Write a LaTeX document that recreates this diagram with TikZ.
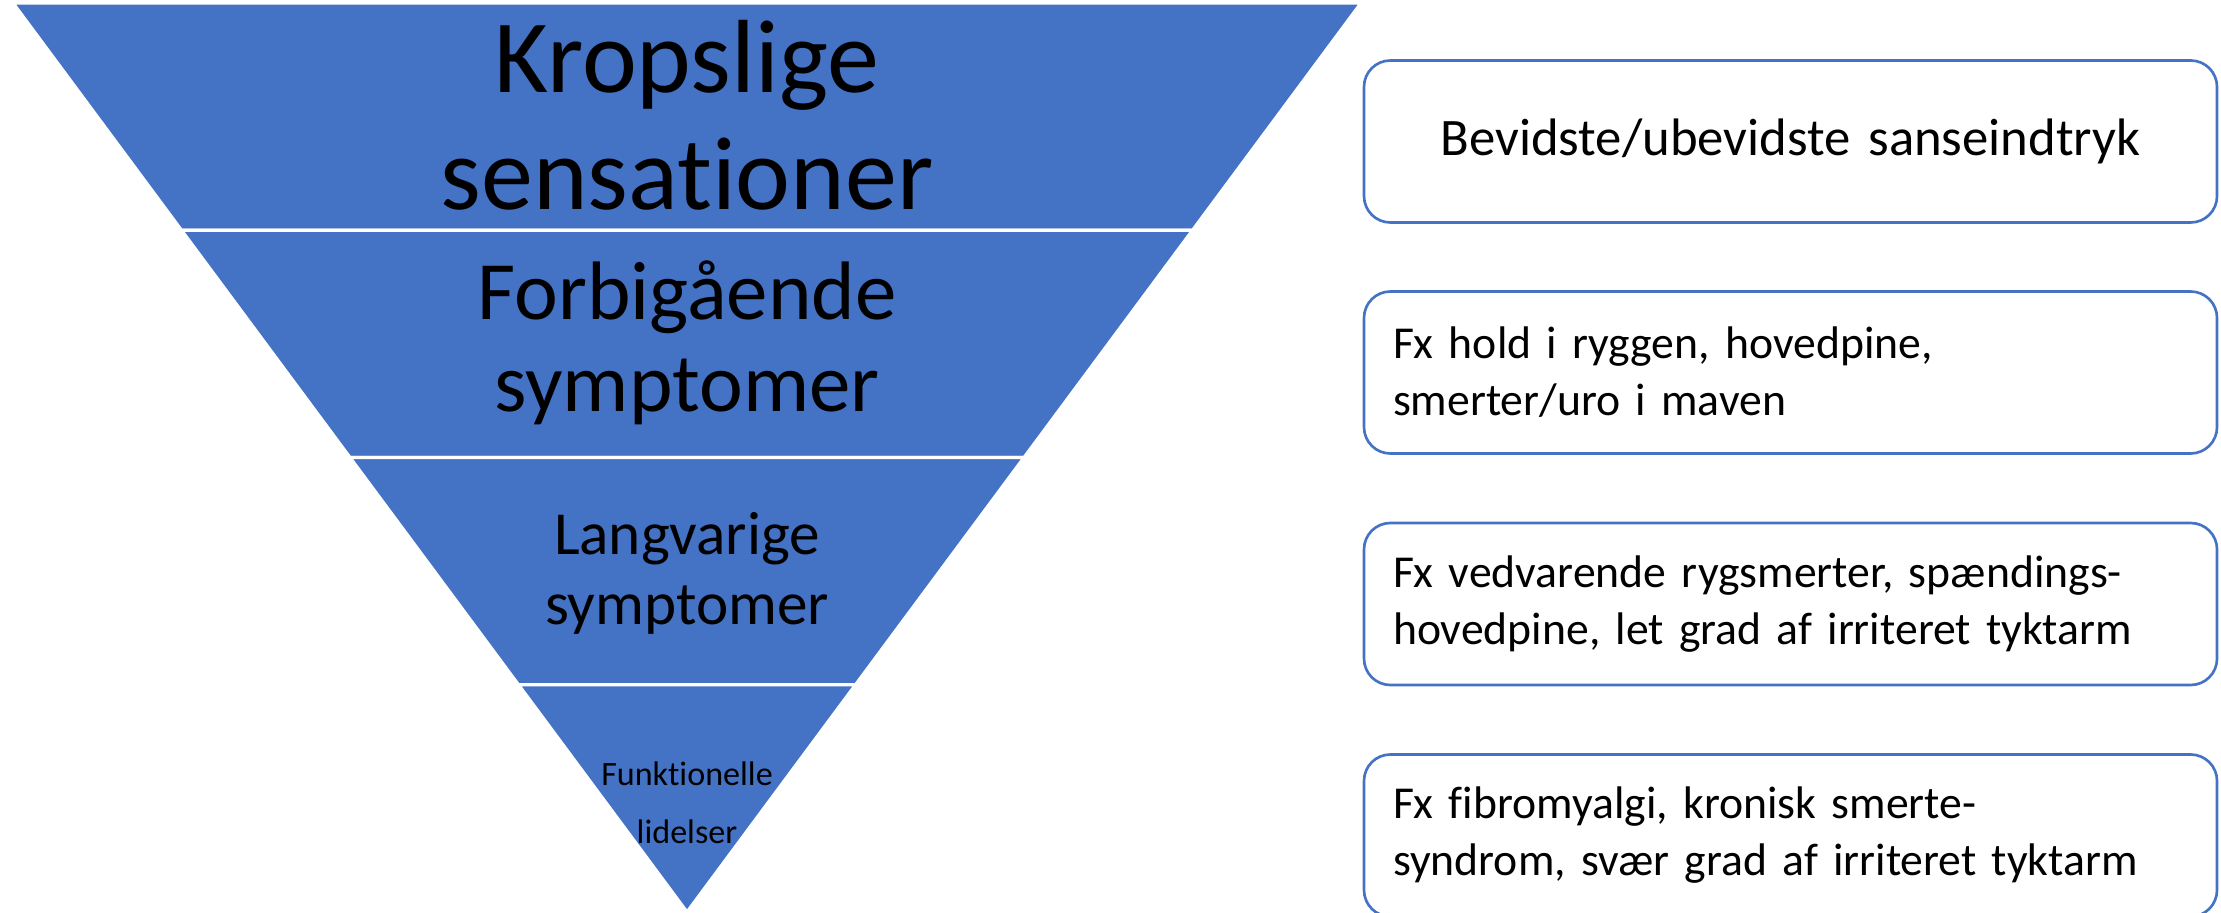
\documentclass[tikz,border=0pt]{standalone}
\usepackage{fontspec}
\setmainfont{Carlito}[Ligatures={NoCommon}]
\usepackage{xcolor}
\definecolor{pyramidblue}{RGB}{68, 114, 196}
\usetikzlibrary{calc, positioning}

\begin{document}
\begin{tikzpicture}[
    band/.style={fill=pyramidblue, draw=white, line width=0.9pt},
    lvl/.style={align=center, inner sep=0pt, text=black},
    ibox/.style={rectangle, rounded corners=7.5pt, draw=pyramidblue, line width=0.75pt, fill=white, minimum width=8.53cm, minimum height=1.62cm, text width=7.95cm, inner xsep=0.29cm, align=left, font=\fontsize{13}{16.2}\selectfont}
  ]
    \useasboundingbox (0, 0) rectangle (22.21, 9.12);
    \clip (0, 0) rectangle (22.21, 9.12);

    % inverted pyramid in four bands
    \coordinate (tl) at (0.13, 9.09);
    \coordinate (tr) at (13.61, 9.09);
    \coordinate (apex) at (6.87, 0);
    \foreach \i in {0,...,3} {
      \pgfmathsetmacro\fa{\i/4}
      \pgfmathsetmacro\fb{(\i+1)/4}
      \filldraw[band] ($(tl)!\fa!(apex)$) -- ($(tr)!\fa!(apex)$) -- ($(tr)!\fb!(apex)$) -- ($(tl)!\fb!(apex)$) -- cycle;
    }

    \node[lvl, font=\fontsize{29.6}{33.3}\selectfont] (lvl1) at (6.87, 7.97) {Kropslige\\sensationer};
    \node[lvl, font=\fontsize{23.6}{26.2}\selectfont] (lvl2) at (6.87, 5.69) {Forbigående\\symptomer};
    \node[lvl, font=\fontsize{17.4}{19.9}\selectfont] (lvl3) at (6.87, 3.39) {Langvarige\\symptomer};
    \node[lvl, font=\fontsize{9.7}{16.5}\selectfont] (lvl4) at (6.87, 1.09) {Funktionelle\\lidelser};

    % descriptions
    \node[ibox, align=center, font=\fontsize{15}{18}\selectfont] (desc1) at (17.905, 7.705) {Bevidste/ubevidste sanseindtryk};
    \node[ibox] (desc2) at (17.905, 5.395) {Fx hold i ryggen, hovedpine,\\smerter/uro i maven};
    \node[ibox] (desc3) at (17.905, 3.08) {Fx vedvarende rygsmerter, spændings-\\hovedpine, let grad af irriteret tyktarm};
    \node[ibox] (desc4) at (17.905, 0.765) {Fx fibromyalgi, kronisk smerte-\\syndrom, svær grad af irriteret tyktarm};
  \end{tikzpicture}
\end{document}
